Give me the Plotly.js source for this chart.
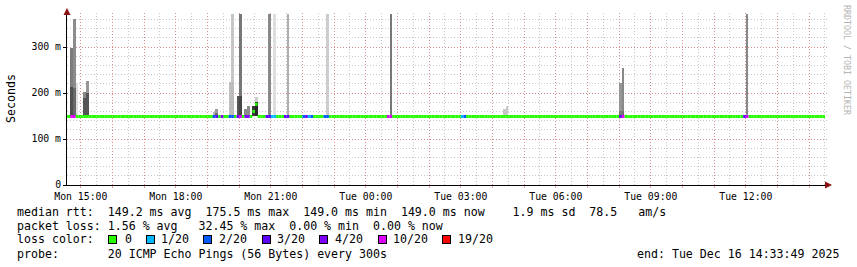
<!DOCTYPE html>
<html><head><meta charset="utf-8">
<script src="https://cdn.plot.ly/plotly-3.0.1.min.js"></script>
<style>html,body{margin:0;padding:0;background:#fff;overflow:hidden}#chart{width:857px;height:267px}</style>
</head><body><div id="chart"></div>
<script>
// ---------------- data ----------------
const rangeStart = '2025-12-15 14:33:49';
const rangeEnd   = '2025-12-16 14:33:49';
const stepSeconds = 300;
const baselineMedian = 0.149;               // seconds

const medianTimes  = ['2025-12-15 20:25', '2025-12-15 20:30'];
const medianValues = [0.160, 0.1755];

const smokeTimes = ['2025-12-15 14:40','2025-12-15 14:45','2025-12-15 14:50','2025-12-15 15:05','2025-12-15 15:10',
  '2025-12-15 19:10','2025-12-15 19:15','2025-12-15 19:40','2025-12-15 19:45','2025-12-15 19:55','2025-12-15 20:00',
  '2025-12-15 20:10','2025-12-15 20:15','2025-12-15 20:25','2025-12-15 20:30','2025-12-15 20:35','2025-12-15 20:40',
  '2025-12-15 20:55','2025-12-15 21:05','2025-12-15 21:30','2025-12-15 22:45','2025-12-16 00:45',
  '2025-12-16 04:20','2025-12-16 04:25','2025-12-16 08:00','2025-12-16 08:05','2025-12-16 12:00'];
const smokeMax = [0.298,0.361,0.221,0.202,0.226,
  0.158,0.165,0.224,0.372,0.193,0.372,
  0.165,0.172,0.172,0.191,0.153,0.153,
  0.372,0.372,0.372,0.372,0.372,
  0.165,0.172,0.221,0.254,0.372];
const smokeMaxGray = [125,140,222,135,150,
  180,155,190,198,85,120,
  140,140,55,205,225,225,
  136,222,175,205,120,
  200,200,150,136,136];
const smokeCore = [0.213,0.21,null,0.19,0.2,
  null,0.157,null,0.224,null,0.193,
  null,null,null,0.18,null,null,
  null,null,null,null,null,
  null,null,0.16,0.16,null];
const smokeCoreGray = [80,105,null,85,85,
  null,110,null,188,null,70,
  null,null,null,40,null,null,
  null,null,null,null,null,
  null,null,120,110,null];

const lossTimes = ['2025-12-15 14:40','2025-12-15 14:45','2025-12-15 19:10','2025-12-15 19:15','2025-12-15 19:25',
  '2025-12-15 19:40','2025-12-15 19:45','2025-12-15 19:55','2025-12-15 20:00','2025-12-15 20:10','2025-12-15 20:15',
  '2025-12-15 20:50','2025-12-15 20:55','2025-12-15 21:00','2025-12-15 21:05','2025-12-15 21:25','2025-12-15 21:30',
  '2025-12-15 22:00','2025-12-15 22:05','2025-12-15 22:10','2025-12-15 22:15','2025-12-15 22:40','2025-12-15 22:45',
  '2025-12-16 00:40','2025-12-16 00:45','2025-12-16 03:00','2025-12-16 03:05','2025-12-16 08:00','2025-12-16 08:05',
  '2025-12-16 11:55','2025-12-16 12:00'];
const lossLevels = [5,5,2,3,4,
  2,2,4,5,4,4,
  3,3,1,1,3,3,
  2,3,1,2,2,2,
  5,5,1,2,3,5,
  3,5];
const lossLabels = ['0','1/20','2/20','3/20','4/20','10/20','19/20'];
const lossColors = ['#26ff00','#00b8ff','#0059ff','#5e00ff','#7e00ff','#dd00ff','#ff0000'];

const xTickTimes  = ['2025-12-15 15:00','2025-12-15 18:00','2025-12-15 21:00','2025-12-16 00:00',
                     '2025-12-16 03:00','2025-12-16 06:00','2025-12-16 09:00','2025-12-16 12:00'];
const xTickLabels = ['Mon 15:00','Mon 18:00','Mon 21:00','Tue 00:00','Tue 03:00','Tue 06:00','Tue 09:00','Tue 12:00'];
const yTickVals   = [0, 0.1, 0.2, 0.3];
const yTickLabels = ['0', '100 m', '200 m', '300 m'];

const legendLines = [
  'median rtt:  149.2 ms avg  175.5 ms max  149.0 ms min  149.0 ms now    1.9 ms sd  78.5   am/s',
  'packet loss: 1.56 % avg   32.45 % max  0.00 % min  0.00 % now',
  'loss color:',
  'probe:       20 ICMP Echo Pings (56 Bytes) every 300s'
];
const endText = 'end: Tue Dec 16 14:33:49 2025';
const watermark = 'RRDTOOL / TOBI OETIKER';

// ---------------- build ----------------
const T = s => Date.parse(s.replace(' ', 'T') + (s.length === 16 ? ':00' : '') + 'Z');
const STEP = stepSeconds * 1000;
const HOUR = 3600000;
const gray = v => `rgb(${v},${v},${v})`;
const nb = s => s.replace(/ /g, '\u00a0');

const xStart = T(rangeStart), xEnd = T(rangeEnd);
const medMap = {}; medianTimes.forEach((t, i) => medMap[T(t)] = medianValues[i]);
const lossMap = {}; lossTimes.forEach((t, i) => lossMap[T(t)] = lossLevels[i]);

const traces = [];
// smoke (max layer)
traces.push({
  type: 'bar', x: smokeTimes.map(t => T(t) + STEP / 2), base: smokeTimes.map(() => baselineMedian),
  y: smokeMax.map(v => v - baselineMedian), width: smokeTimes.map(() => STEP),
  marker: {color: smokeMaxGray.map(gray), line: {width: 0}}, hoverinfo: 'skip'
});
// smoke (dense core)
const coreIdx = smokeCore.map((v, i) => v == null ? -1 : i).filter(i => i >= 0);
traces.push({
  type: 'bar', x: coreIdx.map(i => T(smokeTimes[i]) + STEP / 2), base: coreIdx.map(() => baselineMedian),
  y: coreIdx.map(i => smokeCore[i] - baselineMedian), width: coreIdx.map(() => STEP),
  marker: {color: coreIdx.map(i => gray(smokeCoreGray[i])), line: {width: 0}}, hoverinfo: 'skip'
});
// median line coloured by loss
const segX = lossColors.map(() => []), segY = lossColors.map(() => []);
for (let t = xStart - (xStart % STEP); t + STEP <= xEnd; t += STEP) {
  const m = medMap[t] != null ? medMap[t] : baselineMedian;
  const l = lossMap[t] != null ? lossMap[t] : 0;
  segX[l].push(t, t + STEP, null); segY[l].push(m, m, null);
}
lossColors.forEach((c, l) => {
  if (segX[l].length) traces.push({type: 'scatter', mode: 'lines', x: segX[l], y: segY[l],
    line: {color: c, width: 3}, hoverinfo: 'skip'});
});

// ticks
const hourVals = [], hourText = [];
const tickMap = {}; xTickTimes.forEach((t, i) => tickMap[T(t)] = xTickLabels[i]);
for (let t = Math.ceil(xStart / HOUR) * HOUR; t <= xEnd; t += HOUR) {
  hourVals.push(t); hourText.push(tickMap[t] ? nb(tickMap[t]) : '');
}

const PL = 67, PR = 827, PT = 13, PB = 185;
const px = p => (p - PL) / (PR - PL);
const py = p => (PB - p) / (PB - PT);
const MONO = 'DejaVu Sans Mono';
const redGrid = 'rgba(225,120,120,0.75)';
const grayGrid = 'rgba(190,190,190,0.85)';

const annotations = [];
const lineY = [211.5, 225.5, 239.5, 253.5];
legendLines.forEach((s, i) => annotations.push({
  xref: 'paper', yref: 'paper', x: px(16), y: py(lineY[i]), xanchor: 'left', yanchor: 'middle',
  text: nb(s), showarrow: false, borderpad: 0, font: {family: MONO, size: 11.6, color: '#000'}
}));
const boxX = [112.5, 150, 207.5, 266, 323.5, 382, 446.5];
const labX = [124, 160, 218, 276, 334, 392, 457];
lossColors.forEach((c, i) => {
  annotations.push({xref: 'paper', yref: 'paper', x: px(boxX[i]), y: py(239.5), xanchor: 'center', yanchor: 'middle',
    text: '\u00a0', showarrow: false, width: 7, height: 7, borderpad: 0, bgcolor: c,
    bordercolor: '#000', borderwidth: 1, font: {family: MONO, size: 6}});
  annotations.push({xref: 'paper', yref: 'paper', x: px(labX[i]), y: py(239.5), xanchor: 'left', yanchor: 'middle',
    text: lossLabels[i], showarrow: false, borderpad: 0, font: {family: MONO, size: 11.6, color: '#000'}});
});
annotations.push({xref: 'paper', yref: 'paper', x: px(840), y: py(253.5), xanchor: 'right', yanchor: 'middle',
  text: nb(endText), showarrow: false, borderpad: 0, font: {family: MONO, size: 11.6, color: '#000'}});
annotations.push({xref: 'paper', yref: 'paper', x: px(847), y: py(60), xanchor: 'center', yanchor: 'middle',
  text: nb(watermark), textangle: 90, showarrow: false, borderpad: 0, font: {family: MONO, size: 8.3, color: '#b4b4b4'}});
annotations.push({xref: 'paper', yref: 'paper', x: px(11), y: py(99), xanchor: 'center', yanchor: 'middle',
  text: 'Seconds', textangle: -90, showarrow: false, borderpad: 0, font: {family: MONO, size: 11.6, color: '#000'}});
// axis arrows
annotations.push({xref: 'paper', yref: 'paper', x: 0, y: py(8), ax: 0, ay: 6, text: '', showarrow: true,
  arrowhead: 2, arrowsize: 1.4, arrowwidth: 1, arrowcolor: '#8b1010', standoff: 0});
annotations.push({xref: 'paper', yref: 'paper', x: px(832), y: 0, ax: -6, ay: 0, text: '', showarrow: true,
  arrowhead: 2, arrowsize: 1.4, arrowwidth: 1, arrowcolor: '#8b1010', standoff: 0});

const layout = {
  width: 857, height: 267,
  margin: {l: PL, r: 857 - PR, t: PT, b: 267 - PB, pad: 0},
  paper_bgcolor: '#fff', plot_bgcolor: '#fff',
  showlegend: false, barmode: 'overlay', bargap: 0,
  font: {family: MONO, color: '#000'},
  xaxis: {
    type: 'date', range: [xStart, xEnd], tickmode: 'array', tickvals: hourVals, ticktext: hourText,
    showgrid: true, gridcolor: redGrid, griddash: '1px,2px', gridwidth: 1,
    minor: {dtick: HOUR / 2, tick0: T('2025-12-15 00:00'), showgrid: true, gridcolor: grayGrid,
            griddash: '1px,2px', gridwidth: 1, ticks: ''},
    ticks: 'outside', ticklen: 2, tickcolor: redGrid, tickfont: {family: MONO, size: 9.8, color: '#000'},
    showline: true, linecolor: '#000', linewidth: 1, zeroline: false, fixedrange: true, automargin: false
  },
  yaxis: {
    range: [0, 0.374], tickmode: 'array', tickvals: yTickVals, ticktext: yTickLabels.map(nb),
    showgrid: true, gridcolor: redGrid, griddash: '1px,2px', gridwidth: 1,
    minor: {dtick: 0.02, tick0: 0, showgrid: true, gridcolor: grayGrid, griddash: '1px,2px', gridwidth: 1, ticks: ''},
    ticks: 'outside', ticklen: 3, tickcolor: '#000', tickfont: {family: MONO, size: 9.8, color: '#000'},
    showline: true, linecolor: '#000', linewidth: 1, zeroline: false, fixedrange: true, automargin: false
  },
  annotations: annotations
};

Plotly.newPlot('chart', traces, layout, {displayModeBar: false, staticPlot: true});
</script>
</body></html>
